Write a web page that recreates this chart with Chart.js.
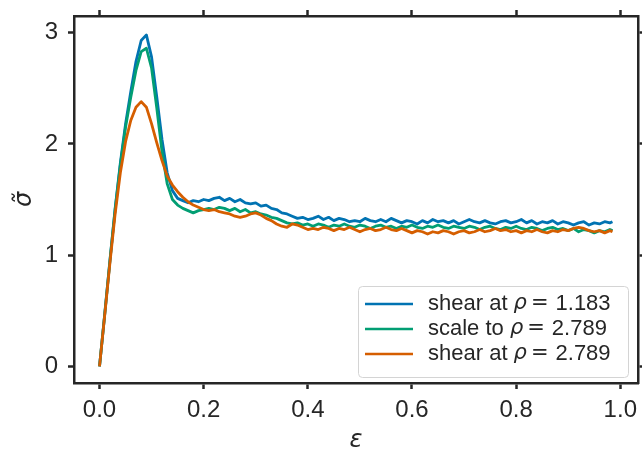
<!DOCTYPE html>
<html>
<head>
<meta charset="utf-8">
<title>stress strain</title>
<script src="https://cdn.jsdelivr.net/npm/chart.js@4.4.1/dist/chart.umd.min.js"></script>
<style>
    body { margin: 0; background: #fff; }
    #chart { display: block; }
</style>
</head>
<body>
<canvas id="chart" width="642" height="457"></canvas>
<script>
// strain values (x)
const strain = [
    0.00, 0.01, 0.02, 0.03, 0.04, 0.05, 0.06, 0.07, 0.08, 0.09,
    0.10, 0.11, 0.12, 0.13, 0.14, 0.15, 0.16, 0.17, 0.18, 0.19,
    0.20, 0.21, 0.22, 0.23, 0.24, 0.25, 0.26, 0.27, 0.28, 0.29,
    0.30, 0.31, 0.32, 0.33, 0.34, 0.35, 0.36, 0.37, 0.38, 0.39,
    0.40, 0.41, 0.42, 0.43, 0.44, 0.45, 0.46, 0.47, 0.48, 0.49,
    0.50, 0.51, 0.52, 0.53, 0.54, 0.55, 0.56, 0.57, 0.58, 0.59,
    0.60, 0.61, 0.62, 0.63, 0.64, 0.65, 0.66, 0.67, 0.68, 0.69,
    0.70, 0.71, 0.72, 0.73, 0.74, 0.75, 0.76, 0.77, 0.78, 0.79,
    0.80, 0.81, 0.82, 0.83, 0.84, 0.85, 0.86, 0.87, 0.88, 0.89,
    0.90, 0.91, 0.92, 0.93, 0.94, 0.95, 0.96, 0.97, 0.98, 0.985
];

// shear at rho = 1.183
const shearLow = [
    0.00, 0.47, 0.95, 1.42, 1.83, 2.18, 2.47, 2.74, 2.93, 2.98,
    2.78, 2.42, 2.04, 1.74, 1.58, 1.51, 1.49, 1.47, 1.49, 1.48,
    1.50, 1.49, 1.51, 1.52, 1.49, 1.51, 1.48, 1.50, 1.47, 1.46,
    1.47, 1.44, 1.45, 1.42, 1.41, 1.38, 1.37, 1.35, 1.33, 1.34,
    1.32, 1.33, 1.35, 1.32, 1.34, 1.31, 1.33, 1.32, 1.30, 1.31,
    1.30, 1.33, 1.31, 1.30, 1.32, 1.30, 1.33, 1.31, 1.29, 1.31,
    1.30, 1.28, 1.31, 1.29, 1.32, 1.30, 1.31, 1.29, 1.31, 1.28,
    1.30, 1.32, 1.30, 1.29, 1.31, 1.29, 1.28, 1.30, 1.31, 1.29,
    1.30, 1.32, 1.29, 1.31, 1.28, 1.30, 1.29, 1.31, 1.28, 1.30,
    1.29, 1.27, 1.29, 1.30, 1.27, 1.29, 1.28, 1.30, 1.29, 1.30
];

// scale to rho = 2.789
const scaled = [
    0.00, 0.47, 0.95, 1.41, 1.81, 2.15, 2.42, 2.66, 2.83, 2.86,
    2.68, 2.32, 1.93, 1.64, 1.50, 1.45, 1.42, 1.40, 1.38, 1.40,
    1.41, 1.42, 1.41, 1.43, 1.42, 1.40, 1.42, 1.39, 1.41, 1.38,
    1.39, 1.37, 1.36, 1.34, 1.33, 1.31, 1.29, 1.28, 1.29, 1.27,
    1.28, 1.26, 1.28, 1.27, 1.25, 1.27, 1.26, 1.28, 1.26, 1.25,
    1.27, 1.26, 1.24, 1.26, 1.27, 1.25, 1.26, 1.24, 1.26, 1.25,
    1.27, 1.25, 1.24, 1.26, 1.25, 1.27, 1.25, 1.24, 1.26, 1.25,
    1.24, 1.26, 1.25, 1.23, 1.25, 1.26, 1.24, 1.23, 1.25, 1.24,
    1.26, 1.24, 1.23, 1.25, 1.24, 1.22, 1.24, 1.25, 1.23, 1.24,
    1.22, 1.24, 1.21, 1.23, 1.22, 1.20, 1.22, 1.21, 1.23, 1.22
];

// shear at rho = 2.789
const shearHigh = [
    0.00, 0.46, 0.93, 1.37, 1.74, 2.02, 2.21, 2.33, 2.38, 2.33,
    2.18, 2.01, 1.85, 1.71, 1.63, 1.57, 1.52, 1.48, 1.45, 1.43,
    1.41, 1.40, 1.41, 1.39, 1.38, 1.37, 1.35, 1.34, 1.35, 1.37,
    1.38, 1.36, 1.33, 1.31, 1.28, 1.26, 1.25, 1.28, 1.27, 1.25,
    1.23, 1.24, 1.23, 1.25, 1.24, 1.22, 1.24, 1.23, 1.25, 1.23,
    1.21, 1.23, 1.24, 1.22, 1.23, 1.25, 1.23, 1.22, 1.24, 1.22,
    1.20, 1.22, 1.21, 1.19, 1.21, 1.20, 1.22, 1.21, 1.19, 1.21,
    1.22, 1.20, 1.21, 1.23, 1.21, 1.22, 1.24, 1.22, 1.23, 1.21,
    1.22, 1.20, 1.22, 1.21, 1.23, 1.21, 1.20, 1.22, 1.21, 1.23,
    1.22, 1.24, 1.25, 1.24, 1.22, 1.21, 1.22, 1.20, 1.22, 1.21
];

const seriesNames = ['shear at ', 'scale to ', 'shear at '];
const rhoValues = ['1.183', '2.789', '2.789'];
const seriesColors = ['#0173b2', '#029e73', '#d55e00'];
const xTicks = [0.0, 0.2, 0.4, 0.6, 0.8, 1.0];
const yTicks = [0, 1, 2, 3];

const ink = '#262626';
const sansFont = '"Liberation Sans", Arial, sans-serif';
const mathFont = '"DejaVu Sans", sans-serif';

function toPoints(ys) {
    return strain.map(function (x, i) { return { x: x, y: ys[i] }; });
}

// fixed axis box sizes, no extra label padding
function fixSize(w, h) {
    return function (scale) {
        if (w !== null) scale.width = w;
        if (h !== null) scale.height = h;
        scale.paddingTop = 0;
        scale.paddingBottom = 0;
        scale.paddingLeft = 0;
        scale.paddingRight = 0;
    };
}

function setTicks(list) {
    return function (scale) {
        scale.ticks = list.map(function (v) { return { value: v }; });
    };
}

// Legend box in the lower right corner of the plot
const cornerLegend = {
    id: 'cornerLegend',
    afterDraw: function (chart) {
        const ctx = chart.ctx;
        const area = chart.chartArea;
        const boxW = 270, boxH = 91;
        const bx = area.right - 10 - boxW;
        const by = area.bottom - 6 - boxH;

        ctx.save();
        ctx.beginPath();
        ctx.roundRect(bx + 0.5, by + 0.5, boxW, boxH, 4);
        ctx.fillStyle = 'rgba(255,255,255,0.8)';
        ctx.fill();
        ctx.strokeStyle = '#d4d4d4';
        ctx.lineWidth = 1;
        ctx.stroke();

        chart.data.datasets.forEach(function (ds, i) {
            const rowY = by + 18 + i * 25;
            ctx.beginPath();
            ctx.moveTo(bx + 7, rowY);
            ctx.lineTo(bx + 55, rowY);
            ctx.strokeStyle = ds.borderColor;
            ctx.lineWidth = 2.6;
            ctx.stroke();

            let tx = bx + 70;
            ctx.fillStyle = ink;
            ctx.textBaseline = 'middle';
            ctx.font = '22px ' + sansFont;
            ctx.fillText(seriesNames[i], tx, rowY);
            tx += ctx.measureText(seriesNames[i]).width;
            ctx.font = 'italic 21px ' + mathFont;
            ctx.fillText('\u03c1', tx, rowY);
            tx += ctx.measureText('\u03c1').width + 4;
            ctx.font = '21px ' + mathFont;
            ctx.fillText('=', tx, rowY);
            tx += ctx.measureText('=').width + 7;
            ctx.font = '22px ' + sansFont;
            ctx.fillText(rhoValues[i], tx, rowY);
        });
        ctx.restore();
    }
};

const frameGrid = {
    display: true,
    drawOnChartArea: false,
    drawTicks: true,
    tickLength: 6,
    tickWidth: 2.5,
    color: ink
};
const frameBorder = { display: true, color: ink, width: 2.5 };

new Chart(document.getElementById('chart'), {
    type: 'line',
    data: {
        datasets: [
            { label: 'shear at rho = 1.183', data: toPoints(shearLow), borderColor: seriesColors[0], order: 2 },
            { label: 'scale to rho = 2.789', data: toPoints(scaled), borderColor: seriesColors[1], order: 1 },
            { label: 'shear at rho = 2.789', data: toPoints(shearHigh), borderColor: seriesColors[2], order: 0 }
        ]
    },
    options: {
        responsive: false,
        animation: false,
        layout: { padding: 0 },
        elements: {
            line: { borderWidth: 2.8, tension: 0, fill: false, borderJoinStyle: 'round' },
            point: { radius: 0 }
        },
        plugins: {
            legend: { display: false },
            tooltip: { enabled: false }
        },
        scales: {
            x: {
                type: 'linear',
                position: 'bottom',
                min: -0.049,
                max: 1.034,
                afterBuildTicks: setTicks(xTicks),
                afterFit: fixSize(null, 74),
                ticks: {
                    color: ink,
                    padding: 7,
                    maxRotation: 0,
                    font: { family: sansFont, size: 24 },
                    callback: function (v) { return v.toFixed(1); }
                },
                grid: frameGrid,
                border: frameBorder,
                title: {
                    display: true,
                    text: '\u03b5',
                    color: ink,
                    padding: { top: 0, bottom: 2 },
                    font: { family: mathFont, size: 24, style: 'italic' }
                }
            },
            xTop: {
                type: 'linear',
                position: 'top',
                min: -0.049,
                max: 1.034,
                afterBuildTicks: setTicks(xTicks),
                afterFit: fixSize(null, 16),
                ticks: { display: false },
                grid: frameGrid,
                border: frameBorder
            },
            y: {
                type: 'linear',
                position: 'left',
                min: -0.15,
                max: 3.15,
                afterBuildTicks: setTicks(yTicks),
                afterFit: fixSize(74, null),
                ticks: {
                    color: ink,
                    padding: 10,
                    font: { family: sansFont, size: 24 },
                    callback: function (v) { return String(v); }
                },
                grid: frameGrid,
                border: frameBorder,
                title: {
                    display: true,
                    text: '\u03c3\u0303',
                    color: ink,
                    padding: { top: 10, bottom: 0 },
                    font: { family: mathFont, size: 24, style: 'italic' }
                }
            },
            yRight: {
                type: 'linear',
                position: 'right',
                min: -0.15,
                max: 3.15,
                afterBuildTicks: setTicks(yTicks),
                afterFit: fixSize(4, null),
                ticks: { display: false },
                grid: frameGrid,
                border: frameBorder
            }
        }
    },
    plugins: [cornerLegend]
});
</script>
</body>
</html>
